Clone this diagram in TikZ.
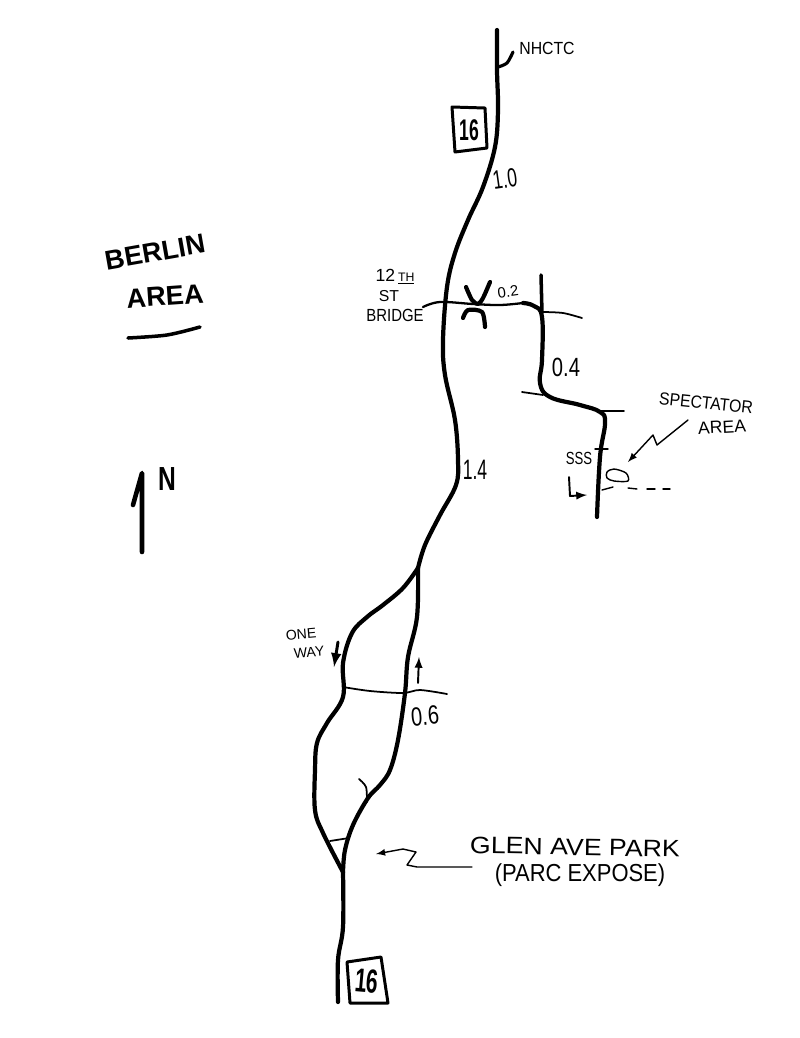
\documentclass[tikz,border=0pt]{standalone}
\usepackage{fontspec}
\setmainfont{Liberation Sans}
\usetikzlibrary{arrows}
\tikzset{
  road/.style={line width=2.4pt, line cap=round, line join=round},
  sideroad/.style={line width=1pt, line cap=round, line join=round},
  hand/.style={line width=0.8pt, line cap=round, line join=round},
  note/.style={inner sep=0pt, scale=1},
  title/.style={inner sep=0pt, font=\bfseries}
}

\begin{document}
\begin{tikzpicture}[x=0.02cm, y=-0.02cm]
    \useasboundingbox (0,0) rectangle (800,1038);

    % main road
    \coordinate (fork) at (418,568);
    \coordinate (join) at (343,872);
    \draw[road] plot[smooth, tension=0.6] coordinates {(497,30) (497,70) (498,110) (495,147) (483,187) (468,220) (455,253) (447,287) (443,340) (445,375) (455,420) (458,460) (456,485) (440,515) (425,545) (fork)};
    \draw[road] plot[smooth, tension=0.6] coordinates {(fork) (417,617) (408,657) (405,693) (398,740) (390,770) (380,785) (368,798) (353,825) (345,850) (join)};
    \draw[road] plot[smooth, tension=0.6] coordinates {(fork) (403,588) (383,605) (367,617) (352,633) (343,663) (343,697) (327,723) (317,743) (315,770) (315,810) (323,833) (join)};
    \draw[road] plot[smooth, tension=0.6] coordinates {(join) (343,927) (338,960) (338,1002)};
    \draw[road, line width=1.8pt] plot[smooth] coordinates {(498,67) (507,63) (513,52)};

    % route to the spectator area
    \draw[sideroad, line width=1.3pt] plot[smooth, tension=0.6] coordinates {(423,307) (440,302) (473,304) (500,305) (523,303)};
    \draw[road] plot[smooth, tension=0.7] coordinates {(523,303) (534,306) (542,317) (542,360) (540,383) (550,397) (580,405) (600,412) (605,423) (600,457) (597,517)};
    \draw[road, line width=2pt] (541,275) -- (542,313);
    \draw[sideroad] plot[smooth] coordinates {(543,312) (563,313) (582,318)};
    \draw[sideroad] (522,392) -- (543,395);
    \draw[sideroad] (600,411) -- (624,411);
    \draw[hand] (595,449) -- (608,449);

    % bridge
    \draw[road] plot[smooth] coordinates {(466,287) (472,300) (478,304) (483,298) (490,282)};
    \draw[road] plot[smooth] coordinates {(463,318) (468,310) (482,312) (485,327)};

    % cross streets
    \draw[sideroad] plot[smooth] coordinates {(343,687) (370,691) (403,693) (420,690) (447,694)};
    \draw[sideroad] (330,841) -- (349,838);
    \draw[sideroad] plot[smooth] coordinates {(359,779) (366,787) (367,802)};

    % spectator area
    \draw[hand, -latex] (688,420) -- (657,445) -- (653,435) -- (628,462);
    \draw[hand] plot[smooth cycle] coordinates {(607,472) (614,469) (626,473) (628,481) (614,481) (607,478)};
    \draw[hand] (602,490) -- (613,487);
    \draw[hand] (628,488) -- (637,489);
    \draw[hand] (647,489) -- (655,489);
    \draw[hand] (663,489) -- (670,489);
    \draw[hand, line width=1.1pt, -latex] (569,477) -- (570,496) -- (587,495);

    % one way arrows
    \draw[hand, line width=1.7pt, -latex] (338,642) -- (334,667);
    \draw[hand, line width=1.1pt, -latex] (418,683) -- (419,657);

    % park arrow
    \draw[hand, -latex] (472,867) -- (417,867) -- (407,865) -- (416,852) -- (403,849) -- (376,854);

    % shields
    \draw[line width=1.7pt, line join=round] (452,107) -- (485,108) -- (487,148) -- (455,152) -- cycle;
    \draw[line width=1.7pt, line join=round] (347,962) -- (381,957) -- (388,1003) -- (350,1003) -- cycle;
    \node[title, xscale=1, yscale=1.7] (shieldtop) at (469,130) {16};
    \node[title, rotate=-5, xscale=1.2, yscale=1.9] (shieldbottom) at (367,981) {16};

    % north arrow and heading
    \draw[road, line width=2.6pt] (133,505) -- (142,473) -- (142,552);
    \draw[road, line width=2pt] plot[smooth] coordinates {(128,338) (167,335) (200,327)};
    \node[title, xscale=1.4, yscale=1.9] (north) at (167,479) {N};
    \node[title, rotate=10, scale=1.55] (berlin) at (155,252) {BERLIN};
    \node[title, rotate=4, scale=1.55] (areatitle) at (165,296) {AREA};

    % labels
    \node[note, xscale=0.9] (nhctc) at (547,48) {NHCTC};
    \node[note, rotate=8, xscale=1, yscale=1.5] (dist1) at (505,179) {1.0};
    \node[note, scale=0.85, rotate=8] (dist2) at (508,292) {0.2};
    \node[note, xscale=1.15, yscale=1.5] (dist4) at (566,367) {0.4};
    \node[note, xscale=1, yscale=1.6] (dist14) at (475,470) {1.4};
    \node[note, rotate=5, xscale=1.15, yscale=1.5] (dist6) at (425,716) {0.6};
    \node[note] (twelfth) at (395,277) {12\,\underline{\scriptsize TH}};
    \node[note, scale=0.9] (st) at (389,296) {ST};
    \node[note, xscale=0.85] (bridge) at (395,315) {BRIDGE};
    \node[note, xscale=0.75] (sss) at (579,458) {SSS};
    \node[note, rotate=-6, xscale=0.9] (spectator) at (706,403) {SPECTATOR};
    \node[note, rotate=3] (area) at (722,427) {AREA};
    \node[note, scale=0.8, rotate=5] (one) at (301,634) {ONE};
    \node[note, scale=0.8, rotate=5] (way) at (309,652) {WAY};
    \node[note, rotate=-1, xscale=1.52, yscale=1.35] (glen) at (575,847) {GLEN AVE PARK};
    \node[note, xscale=1.25, yscale=1.4] (parc) at (580,875) {(PARC EXPOSE)};

\end{tikzpicture}
\end{document}
